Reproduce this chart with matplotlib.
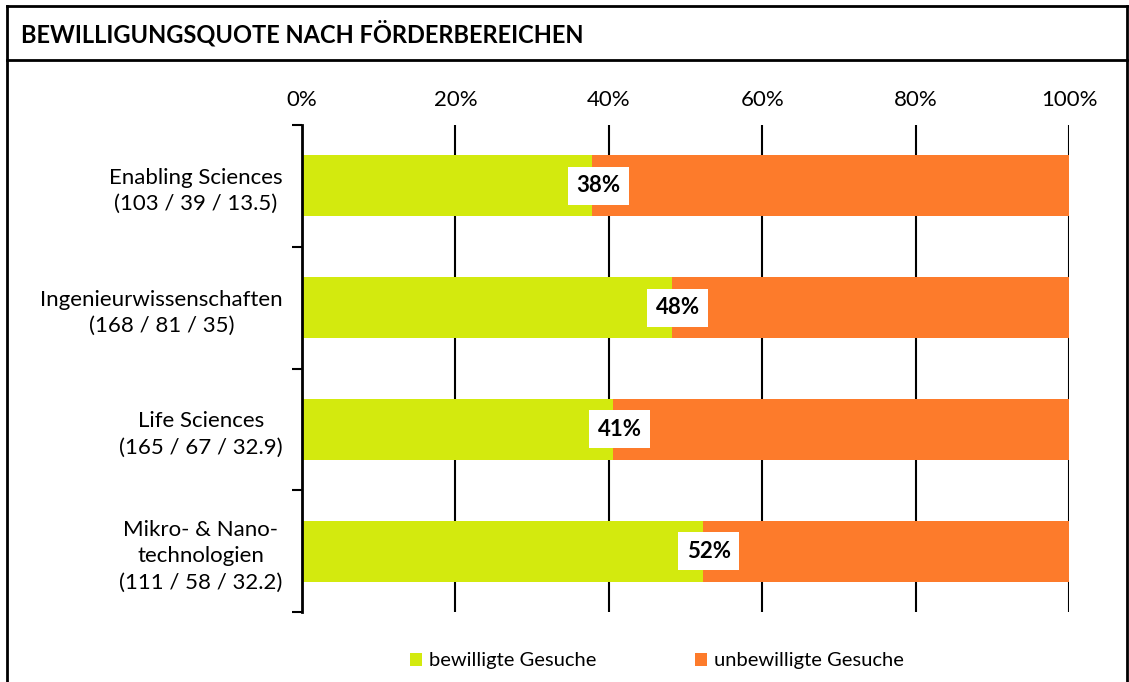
#=========================================================================
# bewilligungsquote.py
#=========================================================================

import matplotlib
matplotlib.use( 'Agg' )
import matplotlib.pyplot as plt
from matplotlib.lines import Line2D
from matplotlib.patches import Patch
import numpy as np

#-------------------------------------------------------------------------
# Configure matplotlib
#-------------------------------------------------------------------------

narrow = [ 'Lato', 'DejaVu Sans' ]

plt.rcParams['font.family'] = narrow
plt.rcParams['font.size']   = 16

#-------------------------------------------------------------------------
# Raw data
#-------------------------------------------------------------------------

title = 'BEWILLIGUNGSQUOTE NACH FÖRDERBEREICHEN'

categories = [
  'Enabling Sciences\n(103 / 39 / 13.5)',
  'Ingenieurwissenschaften\n(168 / 81 / 35)',
  'Life Sciences\n(165 / 67 / 32.9)',
  'Mikro- & Nano-\ntechnologien\n(111 / 58 / 32.2)',
]

# submitted / approved
submitted = np.array( [ 103, 168, 165, 111 ] )
approved  = np.array( [  39,  81,  67,  58 ] )

share_ok  = approved / submitted
share_nok = 1.0 - share_ok

series = [ 'bewilligte Gesuche', 'unbewilligte Gesuche' ]

xticks      = [ 0.0, 0.2, 0.4, 0.6, 0.8, 1.0 ]
xticklabels = [ '0%', '20%', '40%', '60%', '80%', '100%' ]

#-------------------------------------------------------------------------
# Plot parameters
#-------------------------------------------------------------------------

colors = [ '#D3EA0E', '#FD7B2B' ]
height = 0.5

#-------------------------------------------------------------------------
# Create plot
#-------------------------------------------------------------------------

fig = plt.figure( figsize=( 11.29, 6.82 ), dpi=100 )
ax  = fig.add_axes( [ 0.2675, 0.1026, 0.6794, 0.7141 ] )

ind = np.arange( len( categories ) )

ax.barh( ind, share_ok, height, color=colors[0], zorder=2 )
ax.barh( ind, share_nok, height, left=share_ok, color=colors[1], zorder=2 )

# Value labels

for i, v in enumerate( share_ok ):
  ax.text( v + 0.008, i, '%d%%' % round( v * 100 ), ha='center', va='center',
           fontsize=16, fontweight='bold', zorder=4,
           bbox=dict( facecolor='white', edgecolor='none', pad=6 ) )

# Axes formatting

ax.set_xlim( 0, 1.0 )
ax.set_ylim( 3.5, -0.5 )

ax.xaxis.tick_top()
ax.set_xticks( xticks )
ax.set_xticklabels( xticklabels, fontsize=16 )
ax.tick_params( axis='x', length=0, pad=11 )

ax.set_yticks( ind )
ax.set_yticklabels( categories, ha='right', multialignment='center',
                    linespacing=1.4 )
ax.tick_params( axis='y', which='major', length=0, pad=14 )
ax.set_yticks( np.arange( -0.5, 4.0, 1.0 ), minor=True )
ax.tick_params( axis='y', which='minor', length=7, width=1.5, direction='out' )

ax.grid( True, axis='x', color='black', linewidth=1.5, zorder=1 )
ax.set_axisbelow( True )

for s in [ 'top', 'right', 'bottom' ]:
  ax.spines[s].set_visible( False )
ax.spines['left'].set_linewidth( 2 )
ax.spines['left'].set_zorder( 3 )

# Legend

handles = [ Patch( facecolor=c, edgecolor='none' ) for c in colors ]
fig.legend( handles, series, loc='center', bbox_to_anchor=( 0.582, 0.031 ),
            ncol=2, frameon=False, fontsize=14.5, handlelength=0.6,
            handleheight=0.6, handletextpad=0.35, columnspacing=4.9 )

# Frame and title bar

lw = 2
fig.add_artist( Line2D( [ 0.0065, 0.0065 ], [ 0, 0.9905 ], color='black', lw=lw ) )
fig.add_artist( Line2D( [ 0.9985, 0.9985 ], [ 0, 0.9905 ], color='black', lw=lw ) )
fig.add_artist( Line2D( [ 0.0065, 0.9985 ], [ 0.9905, 0.9905 ], color='black', lw=lw ) )
fig.add_artist( Line2D( [ 0.0065, 0.9985 ], [ 0.912, 0.912 ], color='black', lw=lw ) )

fig.text( 0.019, 0.951, title, ha='left', va='center', fontsize=17,
          fontweight='bold' )

#-------------------------------------------------------------------------
# Generate PNG
#-------------------------------------------------------------------------

plt.savefig( 'out.png', dpi=100 )
